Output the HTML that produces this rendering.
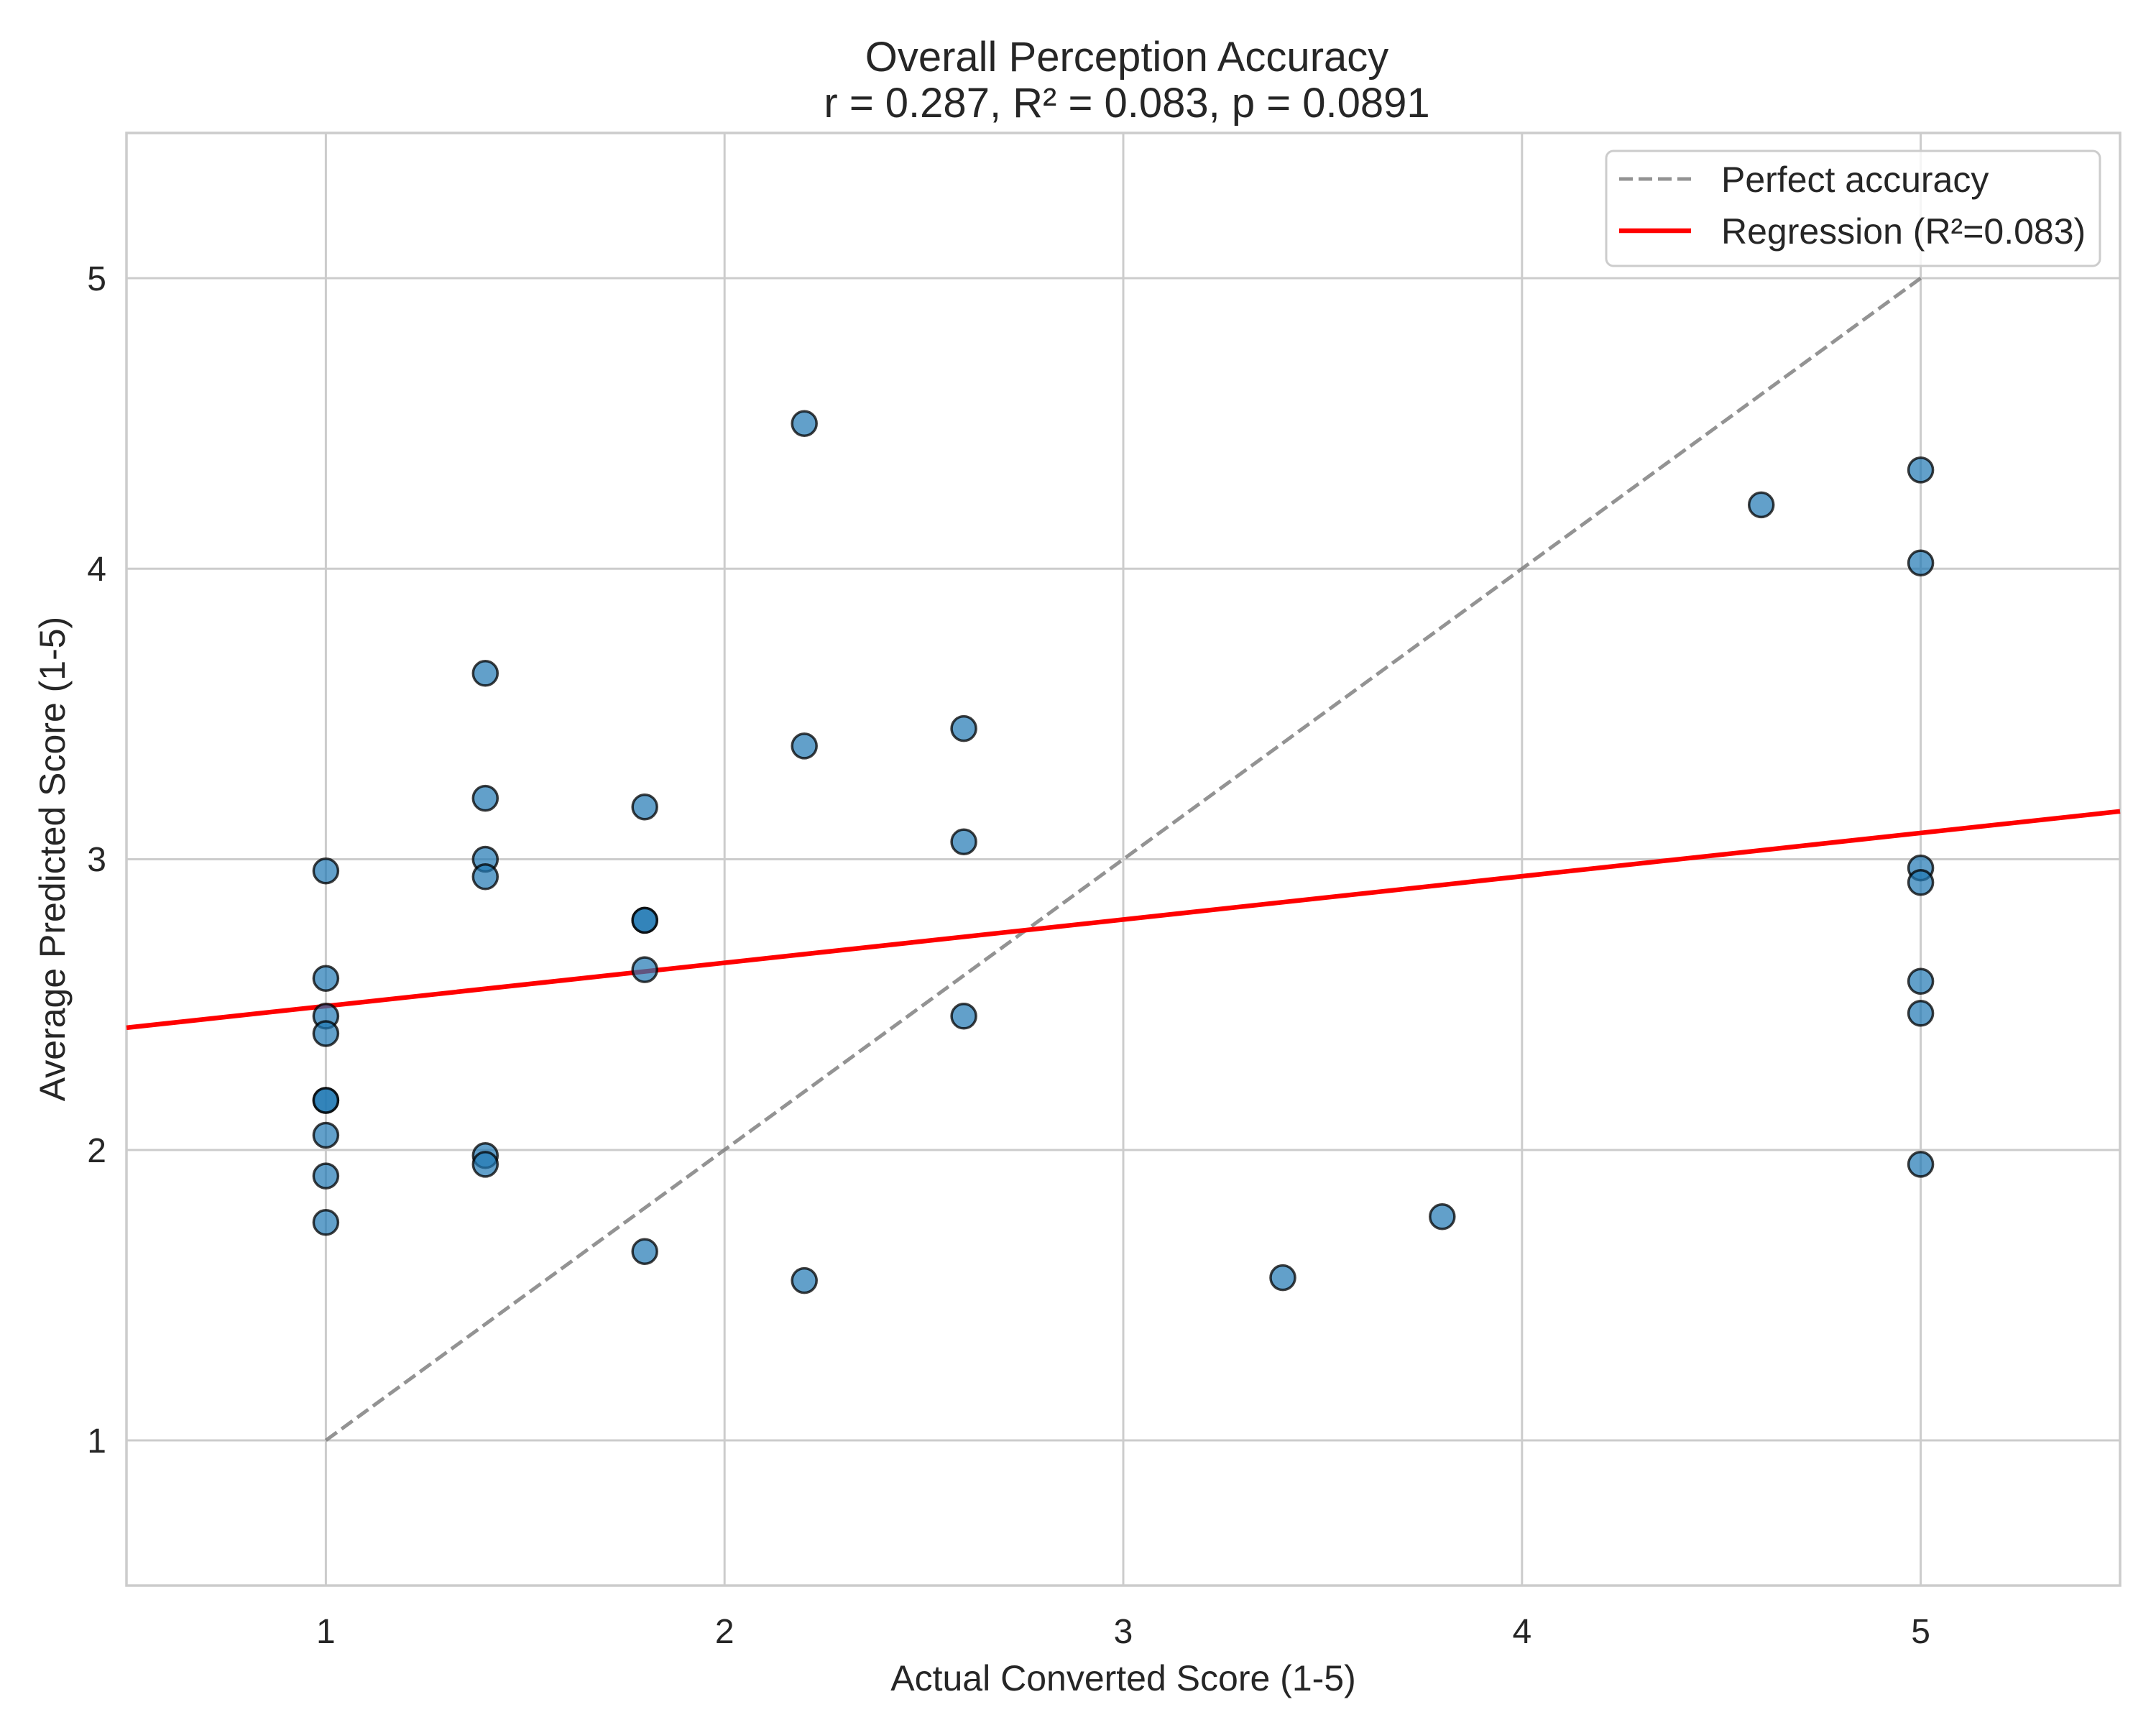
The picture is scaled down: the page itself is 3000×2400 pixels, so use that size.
<!DOCTYPE html>
<html><head><meta charset="utf-8"><style>
html,body{margin:0;padding:0;background:#fff;}
svg{display:block;}
text{font-family:"Liberation Sans",Arial,sans-serif;fill:#262626;}
</style></head><body>
<svg width="3000" height="2400" viewBox="0 0 3000 2400" xmlns="http://www.w3.org/2000/svg">
<rect width="3000" height="2400" fill="#fff"/>
<g stroke="#cccccc" stroke-width="3">
<line x1="453.4" y1="185" x2="453.4" y2="2206"/>
<line x1="1008.2" y1="185" x2="1008.2" y2="2206"/>
<line x1="1563" y1="185" x2="1563" y2="2206"/>
<line x1="2117.8" y1="185" x2="2117.8" y2="2206"/>
<line x1="2672.6" y1="185" x2="2672.6" y2="2206"/>
<line x1="176" y1="2004" x2="2950" y2="2004"/>
<line x1="176" y1="1600" x2="2950" y2="1600"/>
<line x1="176" y1="1195.5" x2="2950" y2="1195.5"/>
<line x1="176" y1="791.3" x2="2950" y2="791.3"/>
<line x1="176" y1="387" x2="2950" y2="387"/>
</g>
<rect x="176" y="185" width="2774" height="2021" fill="none" stroke="#cccccc" stroke-width="3.5"/>
<line x1="453.4" y1="2004" x2="2672.6" y2="387" stroke="#808080" stroke-opacity="0.85" stroke-width="5" stroke-dasharray="19,8"/>
<line x1="176" y1="1429.9" x2="2950" y2="1128.8" stroke="#ff0000" stroke-width="6.5"/>
<g fill="#1f77b4" fill-opacity="0.7" stroke="#000" stroke-opacity="0.75" stroke-width="3.5">
<circle cx="453.4" cy="1211.7" r="17"/><circle cx="453.4" cy="1361.2" r="17"/><circle cx="453.4" cy="1413.8" r="17"/><circle cx="453.4" cy="1438" r="17"/><circle cx="453.4" cy="1531" r="17"/><circle cx="453.4" cy="1531" r="17"/><circle cx="453.4" cy="1579.5" r="17"/><circle cx="453.4" cy="1636.1" r="17"/><circle cx="453.4" cy="1700.8" r="17"/>
<circle cx="675.3" cy="936.8" r="17"/><circle cx="675.3" cy="1110.6" r="17"/><circle cx="675.3" cy="1195.5" r="17"/><circle cx="675.3" cy="1219.8" r="17"/><circle cx="675.3" cy="1607.8" r="17"/><circle cx="675.3" cy="1619.9" r="17"/>
<circle cx="897.2" cy="1122.7" r="17"/><circle cx="897.2" cy="1280.4" r="17"/><circle cx="897.2" cy="1280.4" r="17"/><circle cx="897.2" cy="1349.1" r="17"/><circle cx="897.2" cy="1741.2" r="17"/>
<circle cx="1119.2" cy="589.2" r="17"/><circle cx="1119.2" cy="1037.9" r="17"/><circle cx="1119.2" cy="1781.6" r="17"/>
<circle cx="1341.1" cy="1013.6" r="17"/><circle cx="1341.1" cy="1171.2" r="17"/><circle cx="1341.1" cy="1413.8" r="17"/>
<circle cx="1785" cy="1777.6" r="17"/><circle cx="2006.8" cy="1692.7" r="17"/><circle cx="2450.7" cy="702.4" r="17"/>
<circle cx="2672.6" cy="653.9" r="17"/><circle cx="2672.6" cy="783.2" r="17"/><circle cx="2672.6" cy="1207.6" r="17"/><circle cx="2672.6" cy="1227.8" r="17"/><circle cx="2672.6" cy="1365.3" r="17"/><circle cx="2672.6" cy="1409.8" r="17"/><circle cx="2672.6" cy="1619.9" r="17"/>
</g>
<rect x="2235" y="210" width="687" height="160" rx="10" fill="#fff" fill-opacity="0.8" stroke="#cccccc" stroke-width="3"/>
<line x1="2253" y1="249" x2="2353" y2="249" stroke="#808080" stroke-opacity="0.85" stroke-width="5" stroke-dasharray="19,8"/>
<line x1="2253" y1="321" x2="2353" y2="321" stroke="#ff0000" stroke-width="6.5"/>
<text x="2395" y="267" font-size="50">Perfect accuracy</text>
<text x="2395" y="339" font-size="50">Regression (R²=0.083)</text>
<text x="1568" y="99" font-size="58" text-anchor="middle">Overall Perception Accuracy</text>
<text x="1568" y="163" font-size="58" text-anchor="middle">r = 0.287, R² = 0.083, p = 0.0891</text>
<g font-size="48" text-anchor="middle">
<text x="453.4" y="2286">1</text><text x="1008.2" y="2286">2</text><text x="1563" y="2286">3</text><text x="2117.8" y="2286">4</text><text x="2672.6" y="2286">5</text>
</g>
<g font-size="48" text-anchor="end">
<text x="148" y="2021">1</text><text x="148" y="1617">2</text><text x="148" y="1212">3</text><text x="148" y="808">4</text><text x="148" y="404">5</text>
</g>
<text x="1563" y="2352" font-size="50" text-anchor="middle">Actual Converted Score (1-5)</text>
<text transform="translate(90,1195) rotate(-90)" font-size="50" text-anchor="middle">Average Predicted Score (1-5)</text>
</svg>
</body></html>
